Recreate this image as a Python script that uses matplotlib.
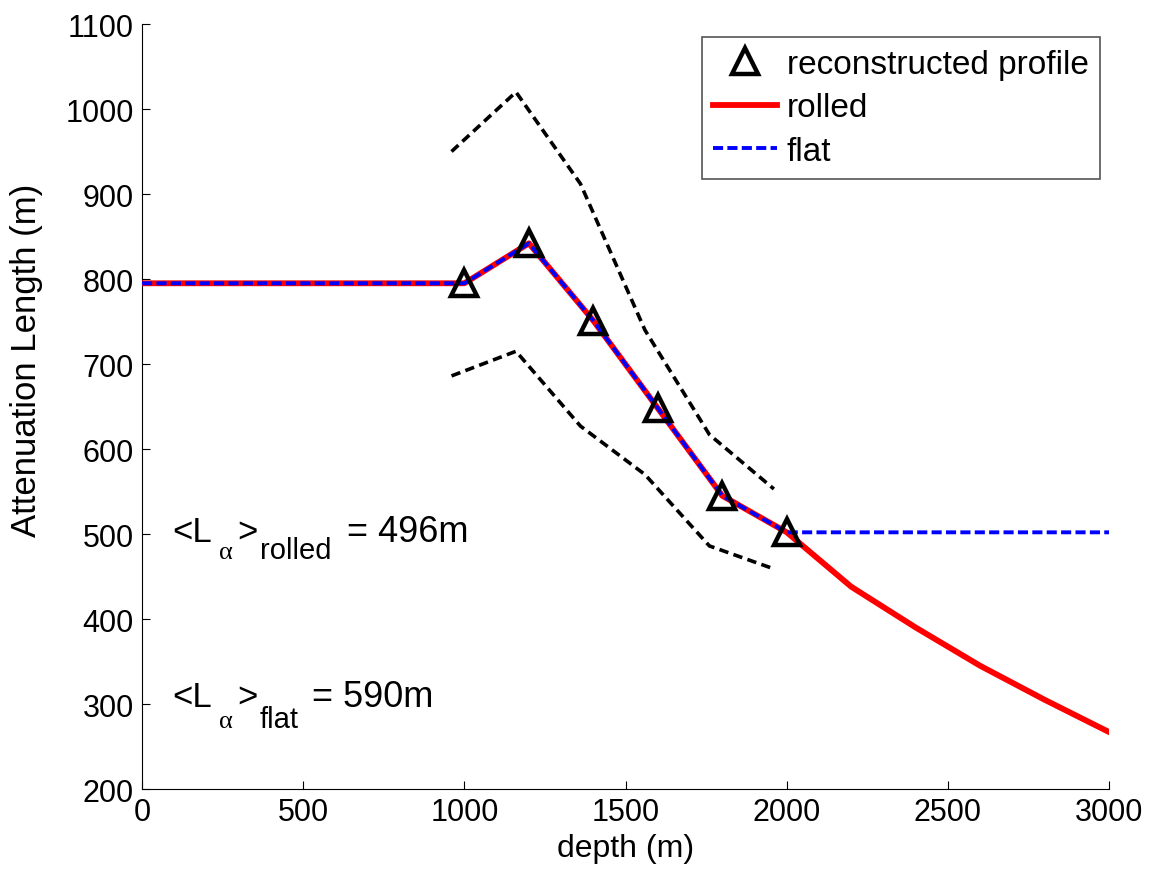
import matplotlib
matplotlib.use("Agg")
import matplotlib.pyplot as plt

plt.rcParams['font.family'] = ['Liberation Sans', 'DejaVu Sans']

# reconstructed attenuation length profile
profile_depth = [1000, 1200, 1400, 1600, 1800, 2000]
profile_L = [795, 842, 751, 648, 545, 502]

# error band around the profile
band_depth = [960, 1160, 1360, 1560, 1760, 1960]
band_upper = [950, 1020, 912, 740, 617, 553]
band_lower = [686, 715, 627, 570, 486, 459]

# extrapolations below 2000 m
rolled_depth = [0] + profile_depth + [2200, 2400, 2600, 2800, 3000]
rolled_L = [795] + profile_L + [438, 390, 345, 305, 267]
flat_depth = [0] + profile_depth + [3000]
flat_L = [795] + profile_L + [502]

mean_rolled = 496
mean_flat = 590

fig = plt.figure(figsize=(11.54, 8.78), dpi=100)
ax = fig.add_axes([0.1231, 0.1002, 0.8380, 0.8713])

ax.plot(band_depth, band_upper, color='black', lw=2.6, dashes=(2.6, 1.5))
ax.plot(band_depth, band_lower, color='black', lw=2.6, dashes=(2.6, 1.5))

ax.plot(rolled_depth, rolled_L, color='red', lw=4.2, label='rolled', zorder=3)
ax.plot(flat_depth, flat_L, color='blue', lw=2.8, dashes=(2.6, 1.1),
        label='flat', zorder=4)
ax.plot(profile_depth, profile_L, linestyle='none', marker='^', ms=19,
        mfc='none', mec='black', mew=3.2, label='reconstructed profile',
        zorder=5)


def mean_label(y, sub, value, sub_dx, value_dx, sub_dy):
    # <L_alpha>_sub = value, built from pieces so the subscripts sit low
    pieces = [
        ('<L', 0, 0, dict(fontsize=25)),
        ('\u03b1', 46, sub_dy, dict(fontsize=19, family='Liberation Serif')),
        ('>', 65, 0, dict(fontsize=25)),
        (sub, sub_dx, sub_dy, dict(fontsize=21)),
        ('= %dm' % value, value_dx, 0, dict(fontsize=26)),
    ]
    for text, dx, dy, kw in pieces:
        ax.annotate(text, xy=(95, y), xytext=(dx, dy),
                    textcoords='offset pixels', ha='left', va='baseline', **kw)


mean_label(492, 'rolled', mean_rolled, 87, 174, -17)
mean_label(298, 'flat', mean_flat, 87, 139, -21)

ax.set_xlim(0, 3000)
ax.set_ylim(200, 1100)
ax.set_xticks(range(0, 3001, 500))
ax.set_yticks(range(200, 1101, 100))
ax.tick_params(direction='in', length=6, labelsize=22, pad=6, width=0.8)
ax.spines['top'].set_visible(False)
ax.spines['right'].set_visible(False)
for side in ('left', 'bottom'):
    ax.spines[side].set_linewidth(0.8)
ax.set_xlabel('depth (m)', fontsize=23, va='top')
ax.xaxis.set_label_coords(0.5, -0.058)
ax.set_ylabel('Attenuation Length (m)', fontsize=25, va='center')
ax.yaxis.set_label_coords(-0.119, 0.562)

handles, labels = ax.get_legend_handles_labels()
order = [2, 0, 1]
leg = ax.legend([handles[i] for i in order], [labels[i] for i in order],
                loc='upper right', fontsize=24, fancybox=False,
                edgecolor='#555555', framealpha=1, handlelength=1.9,
                handletextpad=0.3, borderpad=0.35, labelspacing=0.38,
                borderaxespad=0, bbox_to_anchor=(0.9907, 0.983))
leg.get_frame().set_linewidth(1.2)

fig.savefig('out.png', dpi=100)
